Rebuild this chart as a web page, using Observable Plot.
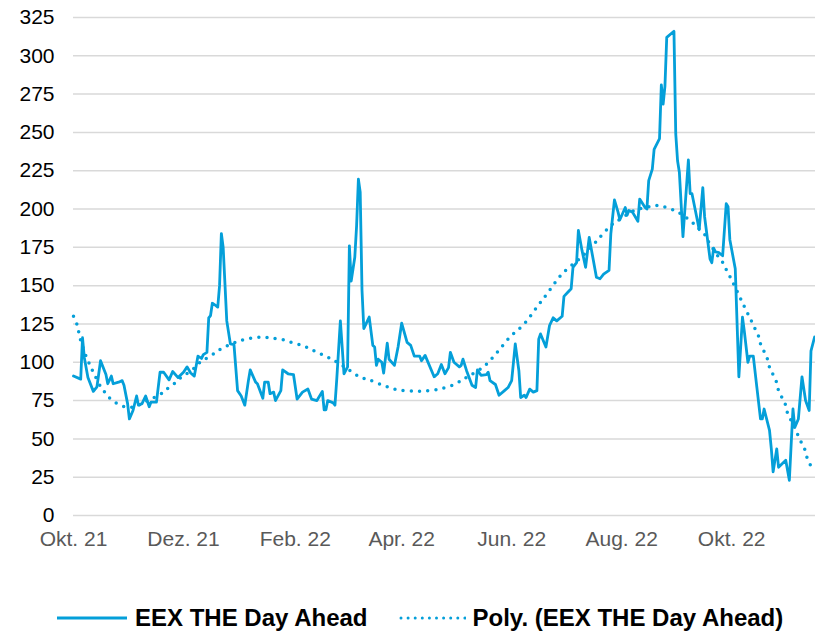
<!DOCTYPE html>
<html>
<head>
<meta charset="utf-8">
<script src="https://cdn.jsdelivr.net/npm/d3@7"></script>
<script src="https://cdn.jsdelivr.net/npm/@observablehq/plot@0.6"></script>
<style>
  body { margin: 0; background: #fff; font-family: "Liberation Sans", Arial, sans-serif; }
  #chart { width: 815px; }
  .legend { display: flex; align-items: center; height: 34px; margin-top: 6px; padding-left: 57px; font-weight: bold; font-size: 24px; color: #000; white-space: nowrap; }
  .legend svg { display: block; }
</style>
</head>
<body>
<div id="chart"></div>
<script>
// Start date of the series; each point is given as a day offset from it
const startDate = "2021-10-01";

// EEX THE Day Ahead (EUR/MWh)
const dayOffsets = [0,4,5,6,8,11,13,15,18,19,21,22,25,27,28,30,31,33,35,36,38,40,42,43,46,48,50,53,55,58,61,63,65,67,69,71,72,74,75,76,77,79,80,81,82,83,85,87,89,91,93,95,97,98,101,102,105,106,108,109,111,112,115,116,119,122,124,127,130,132,135,138,139,140,141,144,145,146,148,149,150,152,153,154,156,157,158,159,160,161,164,166,167,168,169,171,172,174,175,178,180,182,185,187,189,192,193,195,200,202,204,206,208,209,211,214,215,216,218,221,223,224,226,229,230,231,234,236,239,241,243,245,247,248,250,251,253,255,257,258,259,262,264,266,268,271,272,274,276,277,279,280,282,284,286,290,292,294,297,298,300,302,303,306,307,308,310,313,314,317,318,319,321,322,325,326,327,328,329,333,334,335,336,338,341,342,343,346,347,349,350,353,354,355,356,358,360,362,363,364,367,369,371,372,374,375,377,379,381,382,383,386,387,388,390,391,395,397,399,400,402,404,406,408,409,411];
const prices = [91,89,116,103,90,81,84,101,92,86,91,86,87,88,85,73,63,68.5,78,72,73,78,71,74,74,93.5,93.5,88.5,94,90,93.5,97,93,91,104,102.5,105,106.5,129,130.5,138.5,137,136,150,184,175,127,112,111.5,81.5,78,72,88,95,87,86,76.5,87,87,79.5,80.5,75,81.5,95,92.5,92,76,80.5,82.5,76,75,81,69,69,75,73.5,72,89,127,110,92.5,97,176,153,168.5,189,219.5,211,147,122,129.5,111,110,98,102,100,93,112.5,102,98,110,125.5,113,111,104,104,101,104.5,90.5,92.5,98.5,92.5,96.5,106.5,100,97,98,102,94.5,85,83.5,95,91.5,92,93.5,88,85.5,78.5,81.5,83.5,88,112,94.5,77,78.5,77,82.5,80.5,81.5,115,118.5,110,124,129,127,130,143,145.5,148,162,165,186,173,162,181.5,155.5,154.5,157.5,160,184,206,198,193,201,196,199,198,192,206.5,201,200,218.5,226,239,246,281,268.5,280,312,316,249,231.5,224,182,232,210,210,192.5,186.5,214,195,167.5,165,174.5,172,171.5,169.5,203.5,201.5,180,161,90.5,129.5,120.5,100,104,104,83.5,63,63,69.5,55.5,43.5,28.5,43.5,31.5,36,23,69.5,57.5,63,90.5,75,68.5,107.5,116.5];

// Polynomial trend line
const trendDays = [0,2,3,4,7,9,11,15,18,21,25,29,33,37,41,46,50,53,57,60,64,68,71,75,79,82,87,91,95,100,105,109,113,118,122,127,131,135,140,144,152,159,164,172,180,190,194,204,212,216,220,228,235,242,250,257,263,271,282,289,292,298,302,311,318,323,327,332,336,343,346,350,352,357,360,362,364,366,368,370,372,374,376,378,380,381,383,385,386,388,390,391,393,395,396,398,400,402,404,406,407,409];
const trendValues = [130,124.4,119.2,114.2,103.8,98.5,93.5,84.2,79.6,75.5,72.7,70.8,70.7,72.4,75,77.7,80.5,83.7,87,90.5,93.5,97.2,101,103.3,106.6,108.8,111.8,113.6,114.9,116,116.4,116,115.3,114.2,112.5,111,108.8,106.6,103.8,101.6,95.7,90.3,88.5,84.8,82,81.1,81.1,82.7,86,88.8,91.4,97.7,106.6,116.4,125.1,136,145.3,157.7,169,177.7,181.6,189.3,192.5,199,201.2,202.3,201.7,199.7,197.5,191.4,188,183.5,179,170,165.3,160.5,156,151.2,146.4,141.4,136.4,131.6,126.8,121.8,116.8,112,107,101.6,96.8,91.8,86.6,81.6,76.8,71.8,66.8,62,57.2,51.8,46.8,41.8,37,32.2];

const yTicks = [0,25,50,75,100,125,150,175,200,225,250,275,300,325];
const xTickDates = ["2021-10-01","2021-12-01","2022-02-01","2022-04-01","2022-06-01","2022-08-01","2022-10-01"];
const xTickLabels = ["Okt. 21","Dez. 21","Feb. 22","Apr. 22","Jun. 22","Aug. 22","Okt. 22"];
const seriesNames = ["EEX THE Day Ahead","Poly. (EEX THE Day Ahead)"];

const color = "#049fd9";
const DAY = 864e5;
const t0 = new Date(startDate).getTime();
const toDate = d => new Date(t0 + d * DAY);

const series = dayOffsets.map((d, i) => ({date: toDate(d), value: prices[i]}));
const trend = trendDays.map((d, i) => ({date: toDate(d), value: trendValues[i]}));
const xTicks = xTickDates.map(s => new Date(s));
const labelMap = new Map(xTickDates.map((s, i) => [s, xTickLabels[i]]));

const chart = Plot.plot({
  width: 815,
  height: 595,
  marginTop: 17,
  marginBottom: 80,
  marginLeft: 73,
  marginRight: 0,
  style: {fontFamily: "'Liberation Sans', Arial, sans-serif", fontSize: "21px", background: "#fff", overflow: "visible"},
  x: {type: "utc", domain: [toDate(0), toDate(411.5)]},
  y: {domain: [0, 325]},
  marks: [
    Plot.gridY(yTicks, {stroke: "#d9d9d9", strokeOpacity: 1, strokeWidth: 1.5}),
    Plot.axisY(yTicks, {tickSize: 0, tickPadding: 19, label: null, fill: "#000", fontSize: 21}),
    Plot.axisX(xTicks, {tickSize: 0, tickPadding: 16, label: null, fill: "#595959", fontSize: 21,
      tickFormat: d => labelMap.get(d.toISOString().slice(0, 10))}),
    Plot.line(trend, {x: "date", y: "value", stroke: color, strokeWidth: 3.5, strokeDasharray: "0 8.2", strokeLinecap: "round", curve: "catmull-rom"}),
    Plot.line(series, {x: "date", y: "value", stroke: color, strokeWidth: 2.8, strokeLinejoin: "round"})
  ]
});
document.getElementById("chart").appendChild(chart);

// Legend below the SVG
const legend = document.createElement("div");
legend.className = "legend";
legend.innerHTML = `
  <svg width="70" height="10"><line x1="0" x2="70" y1="5" y2="5" stroke="${color}" stroke-width="3"/></svg>
  <span style="margin-left:8px">${seriesNames[0]}</span>
  <svg width="67" height="10" style="margin-left:31px"><line x1="2" x2="66" y1="5" y2="5" stroke="${color}" stroke-width="3" stroke-dasharray="0 7.1" stroke-linecap="round"/></svg>
  <span style="margin-left:7px">${seriesNames[1]}</span>`;
document.getElementById("chart").appendChild(legend);
</script>
</body>
</html>
